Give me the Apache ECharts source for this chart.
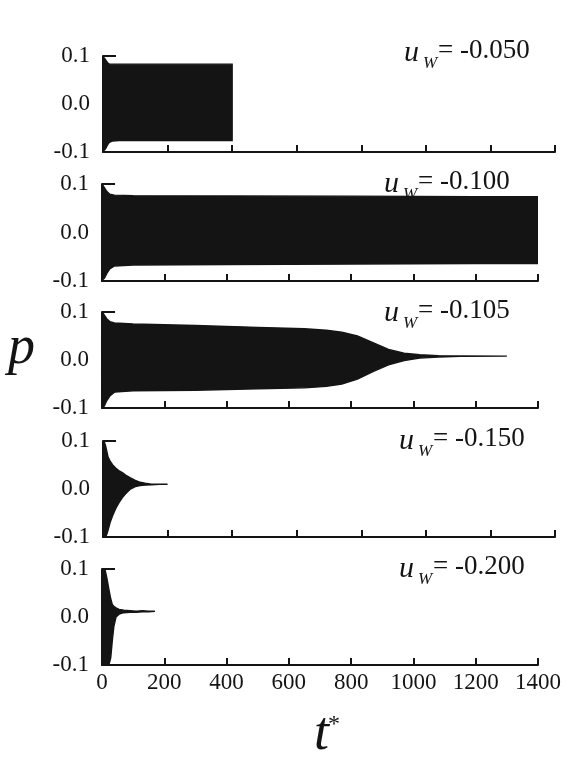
<!DOCTYPE html>
<html>
<head>
<meta charset="utf-8">
<script src="https://cdn.jsdelivr.net/npm/echarts@6/dist/echarts.min.js"></script>
<style>
html,body{margin:0;padding:0;background:#fff;}
#chart{width:582px;height:760px;}
</style>
</head>
<body>
<div id="chart"></div>
<script>
// ---------- data ----------
const xTicks = [0, 200, 400, 600, 800, 1000, 1200, 1400];
const yTicks = [-0.1, 0.0, 0.1];
const panelLabels = ["-0.050", "-0.100", "-0.105", "-0.150", "-0.200"];

// envelope of p(t*) for u_W = -0.050
const tA  = [0, 2, 5, 8, 12, 16, 20, 30, 50, 100, 200, 300, 400];
const upA = [0.095, 0.097, 0.095, 0.092, 0.088, 0.085, 0.083, 0.083, 0.083, 0.083, 0.083, 0.083, 0.083];
const loA = [-0.095, -0.097, -0.096, -0.093, -0.088, -0.083, -0.080, -0.077, -0.076, -0.076, -0.076, -0.076, -0.076];

// u_W = -0.100
const tB  = [0, 3, 8, 15, 25, 40, 100, 400, 800, 1200, 1400];
const upB = [0.095, 0.097, 0.092, 0.085, 0.079, 0.077, 0.076, 0.0755, 0.075, 0.074, 0.074];
const loB = [-0.09, -0.097, -0.094, -0.085, -0.075, -0.069, -0.067, -0.066, -0.065, -0.064, -0.064];

// u_W = -0.105
const tC  = [0, 3, 8, 15, 25, 40, 100, 300, 500, 650, 720, 770, 820, 870, 920, 970, 1020, 1080, 1150, 1300];
const upC = [0.095, 0.098, 0.093, 0.086, 0.080, 0.077, 0.075, 0.072, 0.068, 0.065, 0.062, 0.058, 0.050, 0.036, 0.022, 0.014, 0.011, 0.009, 0.0085, 0.008];
const loC = [-0.09, -0.1, -0.095, -0.085, -0.075, -0.067, -0.064, -0.063, -0.060, -0.058, -0.055, -0.050, -0.040, -0.024, -0.010, -0.001, 0.004, 0.006, 0.0075, 0.008];

// u_W = -0.150
const tD  = [0, 4, 8, 12, 16, 22, 30, 40, 50, 60, 70, 85, 100, 115, 130, 150, 175, 200];
const upD = [0.09, 0.098, 0.09, 0.078, 0.066, 0.058, 0.050, 0.043, 0.038, 0.034, 0.029, 0.023, 0.018, 0.014, 0.012, 0.010, 0.010, 0.010];
const loD = [-0.09, -0.1, -0.1, -0.094, -0.085, -0.07, -0.055, -0.04, -0.028, -0.018, -0.01, 0.0, 0.005, 0.007, 0.008, 0.009, 0.010, 0.010];

// u_W = -0.200
const tE  = [0, 4, 10, 16, 22, 28, 33, 38, 45, 55, 70, 90, 110, 130, 150, 170];
const upE = [0.095, 0.1, 0.098, 0.08, 0.058, 0.038, 0.026, 0.022, 0.019, 0.016, 0.014, 0.013, 0.012, 0.013, 0.012, 0.012];
const loE = [-0.095, -0.1, -0.1, -0.1, -0.1, -0.085, -0.05, -0.02, 0.0, 0.006, 0.009, 0.010, 0.010, 0.011, 0.011, 0.012];

const envelopes = [
  [tA, upA, loA], [tB, upB, loB], [tC, upC, loC], [tD, upD, loD], [tE, upE, loE]
];

// ---------- layout ----------
const grids = [
  {left: 103, top: 56,  width: 452, height: 96},
  {left: 102, top: 184, width: 436, height: 97},
  {left: 102, top: 312, width: 436, height: 96},
  {left: 103, top: 441, width: 452, height: 96},
  {left: 102, top: 569, width: 436, height: 96}
];
const labelPos = [
  {x: 404, y: 60},
  {x: 384, y: 191},
  {x: 384, y: 320},
  {x: 399, y: 448},
  {x: 399, y: 576}
];

const FONT = "'Liberation Serif', 'DejaVu Serif', serif";
const INK = '#141414';

const xAxes = [], yAxes = [], series = [], graphics = [];
grids.forEach((g, i) => {
  xAxes.push({
    type: 'value', gridIndex: i, min: xTicks[0], max: xTicks[xTicks.length - 1], interval: 200,
    axisLine: {show: true, onZero: false, lineStyle: {color: INK, width: 2}},
    axisTick: {show: true, inside: true, length: 7, lineStyle: {color: INK, width: 2}},
    axisLabel: {show: i === grids.length - 1, color: INK, fontFamily: FONT, fontSize: 23, margin: 6,
      formatter: v => String(v)},
    splitLine: {show: false}
  });
  yAxes.push({
    type: 'value', gridIndex: i, min: yTicks[0], max: yTicks[yTicks.length - 1], interval: 0.1,
    axisLine: {show: true, onZero: false, lineStyle: {color: INK, width: 2}},
    axisTick: {show: true, inside: true, length: 13, lineStyle: {color: INK, width: 2}},
    axisLabel: {color: INK, fontFamily: FONT, fontSize: 23, margin: 13,
      formatter: v => (Math.abs(v) < 1e-9 ? 0 : v).toFixed(1)},
    splitLine: {show: false}
  });
  const env = envelopes[i];
  series.push({
    type: 'custom', xAxisIndex: i, yAxisIndex: i, coordinateSystem: 'cartesian2d',
    data: [[env[0][0], 0]], silent: true, clip: true,
    renderItem: function (params, api) {
      const t = env[0], up = env[1], lo = env[2];
      const pts = [];
      for (let k = 0; k < t.length; k++) pts.push(api.coord([t[k], up[k]]));
      for (let k = t.length - 1; k >= 0; k--) pts.push(api.coord([t[k], lo[k]]));
      return {type: 'polygon', shape: {points: pts},
        style: {fill: INK, stroke: INK, lineWidth: 1.4}};
    }
  });
  const lp = labelPos[i];
  graphics.push(
    {type: 'text', left: lp.x, top: lp.y - 22, style: {text: 'u', font: 'italic 30px ' + FONT, fill: INK}},
    {type: 'text', left: lp.x + 19, top: lp.y - 5, style: {text: 'W', font: 'italic 17px ' + FONT, fill: INK}},
    {type: 'text', left: lp.x + 34, top: lp.y - 23, style: {text: '= ' + panelLabels[i], font: '27px ' + FONT, fill: INK}}
  );
});

graphics.push(
  {type: 'text', left: 8, top: 322, style: {text: 'p', font: 'italic 54px ' + FONT, fill: INK}},
  {type: 'text', left: 314, top: 708, style: {text: 't', font: 'italic 54px ' + FONT, fill: INK}},
  {type: 'text', left: 328, top: 713, style: {text: '*', font: '24px ' + FONT, fill: INK}}
);

const chart = echarts.init(document.getElementById('chart'), null, {renderer: 'canvas'});
chart.setOption({
  animation: false,
  backgroundColor: '#ffffff',
  grid: grids,
  xAxis: xAxes,
  yAxis: yAxes,
  series: series,
  graphic: graphics
});
</script>
</body>
</html>
